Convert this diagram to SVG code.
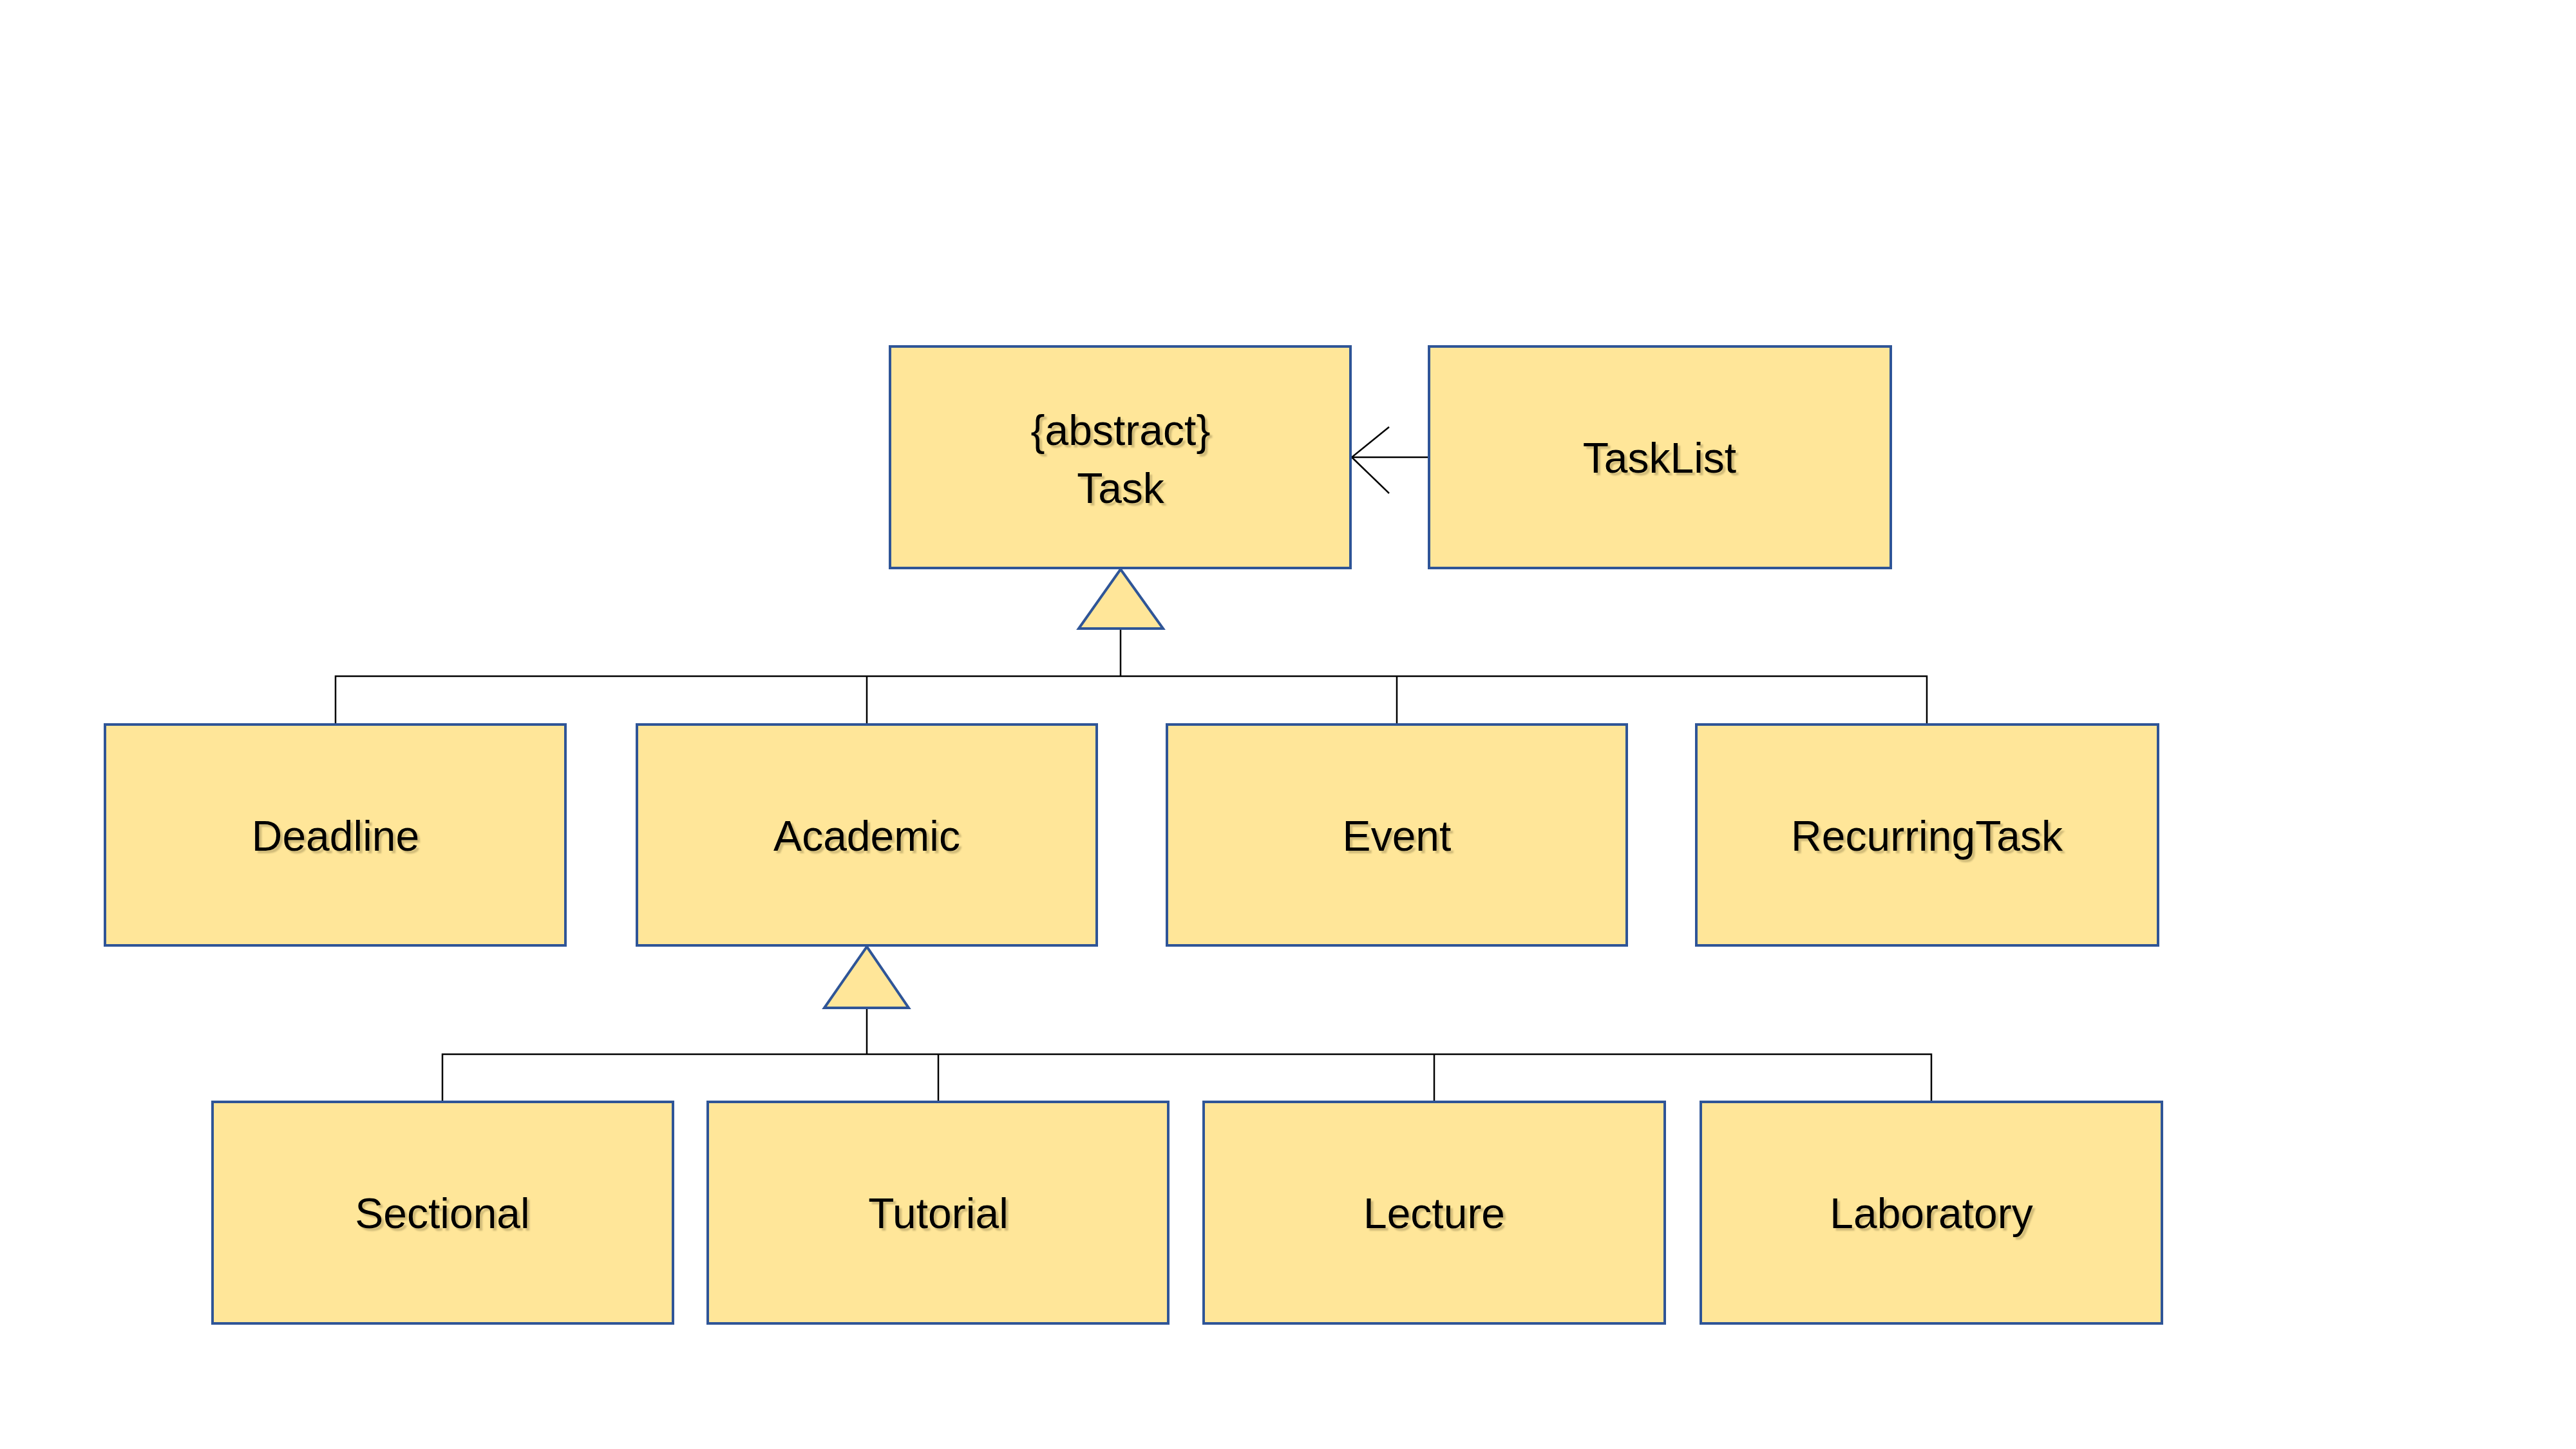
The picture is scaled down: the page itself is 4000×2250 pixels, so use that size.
<svg xmlns="http://www.w3.org/2000/svg" width="4000" height="2250" viewBox="0 0 4000 2250">
<style>
  .box { fill: #FFE699; stroke: #2F5597; stroke-width: 4; }
  .tri { fill: #FFE699; stroke: #2F5597; stroke-width: 4; stroke-linejoin: miter; }
  .lbl { font-family: "Liberation Sans", Arial, sans-serif; font-size: 66px; fill: #000; text-anchor: middle; filter: url(#shadow); }
  .ln { stroke: #000; stroke-width: 2.5; fill: none; }
</style>
<defs>
  <filter id="shadow" x="-10%" y="-20%" width="120%" height="150%">
    <feDropShadow dx="4" dy="4" stdDeviation="1.2" flood-color="#7a6a3a" flood-opacity="0.35"/>
  </filter>
</defs>
<rect width="4000" height="2250" fill="#ffffff"/>

<g id="connectors">
  <!-- generalization to Task -->
  <polyline class="ln" points="521,1125 521,1050 2992,1050 2992,1125"/>
  <line class="ln" x1="1346" y1="1050" x2="1346" y2="1125"/>
  <line class="ln" x1="2169" y1="1050" x2="2169" y2="1125"/>
  <line class="ln" x1="1740" y1="976" x2="1740" y2="1050"/>
  <polygon class="tri" points="1740,884 1806,976 1675,976"/>
  <!-- generalization to Academic -->
  <polyline class="ln" points="687,1711 687,1637 2999,1637 2999,1711"/>
  <line class="ln" x1="1457" y1="1637" x2="1457" y2="1711"/>
  <line class="ln" x1="2227" y1="1637" x2="2227" y2="1711"/>
  <line class="ln" x1="1346" y1="1565" x2="1346" y2="1637"/>
  <polygon class="tri" points="1346,1470 1411,1565 1280,1565"/>
  <!-- association TaskList -> Task -->
  <line class="ln" x1="2219" y1="710" x2="2099" y2="710"/>
  <polyline class="ln" points="2157,663 2099,710 2157,766"/>
</g>

<g id="node-task">
  <rect class="box" x="1382" y="538" width="715" height="344"/>
  <text class="lbl" x="1740" y="691">{abstract}</text>
  <text class="lbl" x="1740" y="781">Task</text>
</g>
<g id="node-tasklist">
  <rect class="box" x="2219" y="538" width="717" height="344"/>
  <text class="lbl" x="2577" y="734">TaskList</text>
</g>

<g id="node-deadline">
  <rect class="box" x="163" y="1125" width="715" height="343"/>
  <text class="lbl" x="521" y="1321">Deadline</text>
</g>
<g id="node-academic">
  <rect class="box" x="989" y="1125" width="714" height="343"/>
  <text class="lbl" x="1346" y="1321">Academic</text>
</g>
<g id="node-event">
  <rect class="box" x="1812" y="1125" width="714" height="343"/>
  <text class="lbl" x="2169" y="1321">Event</text>
</g>
<g id="node-recurringtask">
  <rect class="box" x="2634" y="1125" width="717" height="343"/>
  <text class="lbl" x="2992" y="1321">RecurringTask</text>
</g>

<g id="node-sectional">
  <rect class="box" x="330" y="1711" width="715" height="344"/>
  <text class="lbl" x="687" y="1907">Sectional</text>
</g>
<g id="node-tutorial">
  <rect class="box" x="1099" y="1711" width="715" height="344"/>
  <text class="lbl" x="1457" y="1907">Tutorial</text>
</g>
<g id="node-lecture">
  <rect class="box" x="1869" y="1711" width="716" height="344"/>
  <text class="lbl" x="2227" y="1907">Lecture</text>
</g>
<g id="node-laboratory">
  <rect class="box" x="2641" y="1711" width="716" height="344"/>
  <text class="lbl" x="2999" y="1907">Laboratory</text>
</g>
</svg>
